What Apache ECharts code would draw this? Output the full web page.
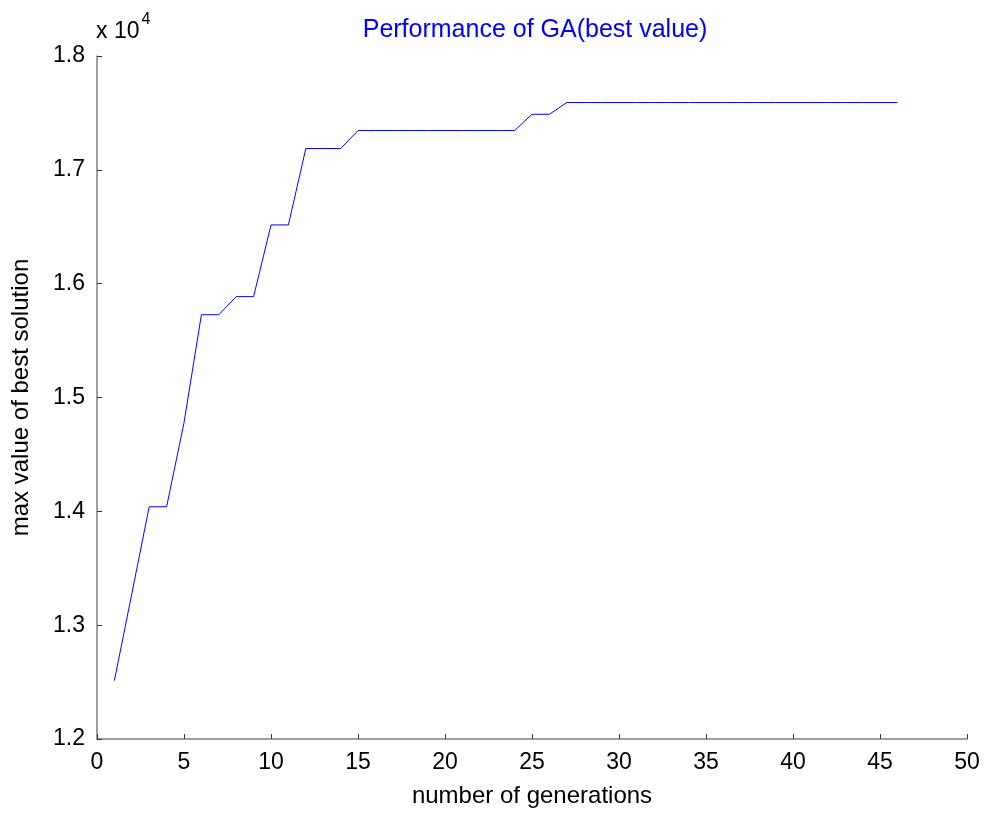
<!DOCTYPE html>
<html>
<head>
<meta charset="utf-8">
<title>Performance of GA</title>
<script src="https://cdn.jsdelivr.net/npm/echarts@6/dist/echarts.min.js"></script>
<style>
  html, body { margin: 0; padding: 0; background: #fff; }
  #main { width: 987px; height: 814px; }
</style>
</head>
<body>
<div id="main"></div>
<script>
// generation numbers and best value found so far
var generations = [];
for (var g = 1; g <= 46; g++) generations.push(g);
var bestValues = [
  12513, 13276, 14040, 14040, 14778, 15727, 15727, 15886, 15886, 16516,
  16516, 17187, 17187, 17187, 17345, 17345, 17345, 17345, 17345, 17345,
  17345, 17345, 17345, 17345, 17488, 17488, 17591, 17591, 17591, 17591,
  17591, 17591, 17591, 17591, 17591, 17591, 17591, 17591, 17591, 17591,
  17591, 17591, 17591, 17591, 17591, 17591
];
var xTicks = [0, 5, 10, 15, 20, 25, 30, 35, 40, 45, 50];
var yTicks = [12000, 13000, 14000, 15000, 16000, 17000, 18000];

var font = 'Liberation Sans, Arial, sans-serif';
var chart = echarts.init(document.getElementById('main'));
var option = {
  animation: false,
  textStyle: { fontFamily: font },
  title: {
    text: 'Performance of GA(best value)',
    left: 530,
    textAlign: 'center',
    top: 13,
    textStyle: { color: '#0000ff', fontSize: 25, fontWeight: 'normal', fontFamily: font }
  },
  graphic: [{
    type: 'text',
    left: 96,
    top: 12,
    style: {
      text: '{b|x 10}{s|4}',
      rich: {
        b: { fontSize: 23, fontFamily: font, fill: '#000', padding: [12, 0, 0, 0] },
        s: { fontSize: 16, fontFamily: font, fill: '#000', padding: [0, 0, 12, 2] }
      }
    }
  }],
  grid: { left: 97, right: 20, top: 56, bottom: 75 },
  xAxis: {
    type: 'value',
    min: xTicks[0],
    max: xTicks[xTicks.length - 1],
    interval: 5,
    name: 'number of generations',
    nameLocation: 'middle',
    nameGap: 45,
    nameTextStyle: { fontSize: 24, color: '#000', fontFamily: font },
    axisLine: { show: true, lineStyle: { color: '#808080', width: 1.5 } },
    axisTick: { show: true, inside: true, length: 5, lineStyle: { color: '#333' } },
    axisLabel: { fontSize: 23, color: '#000', margin: 12, fontFamily: font },
    splitLine: { show: false }
  },
  yAxis: {
    type: 'value',
    min: yTicks[0],
    max: yTicks[yTicks.length - 1],
    interval: 1000,
    name: 'max value of best solution',
    nameLocation: 'middle',
    nameGap: 64,
    nameTextStyle: { fontSize: 24, color: '#000', fontFamily: font },
    axisLine: { show: true, lineStyle: { color: '#808080', width: 1.5 } },
    axisTick: { show: true, inside: true, length: 5, lineStyle: { color: '#333' } },
    axisLabel: {
      fontSize: 23, color: '#000', margin: 12, fontFamily: font,
      formatter: function (v) { return (v / 10000).toFixed(1); }
    },
    splitLine: { show: false }
  },
  series: [{
    type: 'line',
    data: generations.map(function (x, i) { return [x, bestValues[i]]; }),
    showSymbol: false,
    symbol: 'none',
    lineStyle: { color: '#0000ff', width: 1 },
    itemStyle: { color: '#0000ff' }
  }]
};
chart.setOption(option);
</script>
</body>
</html>
